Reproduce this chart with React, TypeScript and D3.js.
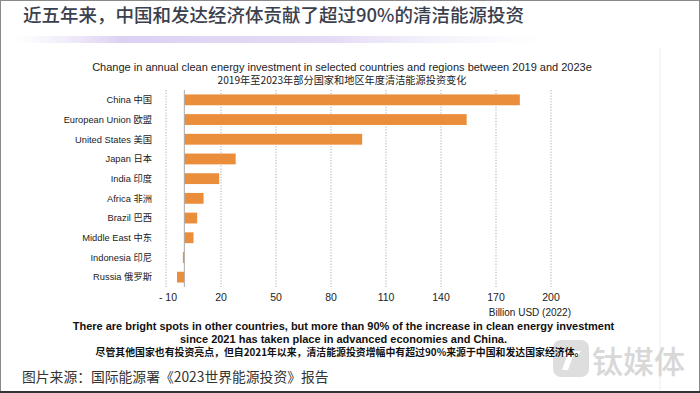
import * as d3 from "d3";

const regions = [
  "China 中国",
  "European Union 欧盟",
  "United States 美国",
  "Japan 日本",
  "India 印度",
  "Africa 非洲",
  "Brazil 巴西",
  "Middle East 中东",
  "Indonesia 印尼",
  "Russia 俄罗斯",
];
const changes = [183, 154, 97, 28, 19, 10.5, 7, 5, -0.8, -4];
const tickValues = [-10, 20, 50, 80, 110, 140, 170, 200];

const W = 700;
const H = 393;
const FONT = "'Liberation Sans', Arial, 'Noto Sans CJK SC', sans-serif";
const CJK = "'Noto Sans CJK SC', 'Liberation Sans', sans-serif";
const ORANGE = "#EB8E3B";

export default function App() {
  const x = d3.scaleLinear().domain([-10, 200]).range([166, 551]);
  const y = d3
    .scaleBand<string>()
    .domain(regions)
    .range([90, 287])
    .paddingInner(0.45)
    .paddingOuter(0.225);

  return (
    <svg
      width={W}
      height={H}
      style={{ position: "absolute", left: 0, top: 0, background: "#fff" }}
      fontFamily={FONT}
    >
      <defs>
        <linearGradient id="band" x1="0" x2="1" y1="0" y2="0">
          <stop offset="0" stopColor="#e6def5" stopOpacity="0" />
          <stop offset="0.2" stopColor="#dcd1f3" stopOpacity="1" />
          <stop offset="0.6" stopColor="#e4dcf6" stopOpacity="1" />
          <stop offset="1" stopColor="#f1ecfa" stopOpacity="0" />
        </linearGradient>
      </defs>
      <rect x={0} y={0} width={W} height={H} fill="#fff" />
      {/* frame */}
      <rect x={0.5} y={0.5} width={W - 1} height={H - 2} fill="none" stroke="#8a8a8a" strokeWidth={1} />
      <line x1={0} x2={W} y1={H - 1} y2={H - 1} stroke="#333" strokeWidth={2} />
      <line x1={660} x2={660} y1={48} y2={390} stroke="#ececec" />

      {/* headline */}
      <text x={23} y={22} fontFamily={CJK} fontSize={18.5} fontWeight={500} fill="#3a404e">
        近五年来，中国和发达经济体贡献了超过90%的清洁能源投资
      </text>
      <rect x={15} y={36} width={530} height={7} fill="url(#band)" />

      {/* chart title */}
      <text x={342} y={70.5} textAnchor="middle" fontSize={11} fill="#222">
        Change in annual clean energy investment in selected countries and regions between 2019 and 2023e
      </text>
      <text x={342} y={84} textAnchor="middle" fontFamily={CJK} fontSize={10.2} fill="#222">
        2019年至2023年部分国家和地区年度清洁能源投资变化
      </text>

      {/* gridlines */}
      {tickValues.map((t) => (
        <line
          key={t}
          x1={x(t)}
          x2={x(t)}
          y1={90}
          y2={287}
          stroke="#999"
          strokeWidth={0.8}
          strokeDasharray="1.2,1.6"
        />
      ))}

      {/* bars */}
      {regions.map((r, i) => {
        const v = changes[i];
        const x0 = x(Math.min(0, v));
        const x1 = x(Math.max(0, v));
        return (
          <rect
            key={r}
            x={x0}
            y={y(r)}
            width={Math.max(0.8, x1 - x0)}
            height={y.bandwidth()}
            fill={ORANGE}
          />
        );
      })}
      <line x1={x(0)} x2={x(0)} y1={90} y2={287} stroke="#aaa" strokeWidth={1} />

      {/* category labels */}
      {regions.map((r) => (
        <text
          key={r}
          x={152}
          y={(y(r) ?? 0) + y.bandwidth() / 2}
          dy="0.35em"
          textAnchor="end"
          fontSize={9.3}
          fill="#222"
        >
          {r}
        </text>
      ))}

      {/* tick labels */}
      {tickValues.map((t) => (
        <text key={t} x={x(t) + (t < 0 ? 2 : 0)} y={301} textAnchor="middle" fontSize={10.5} fill="#222">
          {t < 0 ? `- ${Math.abs(t)}` : t}
        </text>
      ))}
      <text x={571} y={316} textAnchor="end" fontSize={10} fill="#222">
        Billion USD (2022)
      </text>

      {/* watermark */}
      <g>
        <rect x={553} y={340} width={36} height={37} rx={8} fill="#dedede" />
        <path d="M563,351 L581,351 L578,356 L573,356 L568,370 L562,370 L567,356 L561,356 Z" fill="#fff" />
        <text x={592} y={373} fontFamily={CJK} fontSize={31} fontWeight={500} fill="#d8d8d8">
          钛媒体
        </text>
      </g>

      {/* footnote */}
      <text x={343.5} y={330} textAnchor="middle" fontSize={11} fontWeight="bold" fill="#111">
        There are bright spots in other countries, but more than 90% of the increase in clean energy investment
      </text>
      <text x={343.5} y={343} textAnchor="middle" fontSize={11} fontWeight="bold" fill="#111">
        since 2021 has taken place in advanced economies and China.
      </text>
      <text x={340} y={356} textAnchor="middle" fontFamily={CJK} fontSize={9.9} fontWeight="bold" fill="#111">
        尽管其他国家也有投资亮点，但自2021年以来，清洁能源投资增幅中有超过90%来源于中国和发达国家经济体。
      </text>
      <text x={22} y={382} fontFamily={CJK} fontSize={13.8} fill="#333">
        图片来源：国际能源署《2023世界能源投资》报告
      </text>
    </svg>
  );
}
